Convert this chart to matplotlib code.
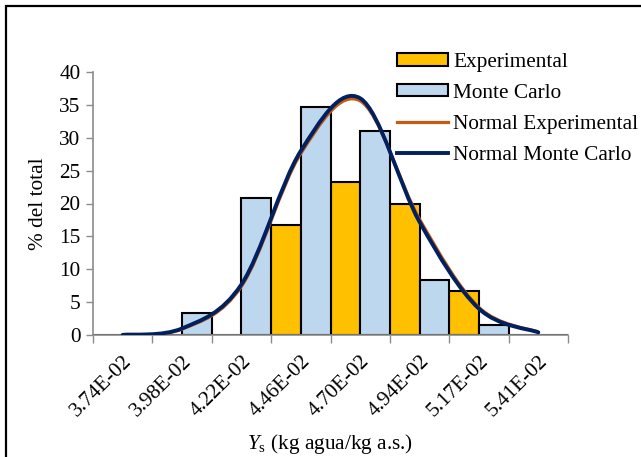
import matplotlib
matplotlib.use("Agg")
import matplotlib.pyplot as plt
from matplotlib.path import Path
from matplotlib.patches import PathPatch, Rectangle
from matplotlib.lines import Line2D
from matplotlib.patches import Patch

plt.rcParams['font.family'] = ['Liberation Serif', 'DejaVu Serif']
plt.rcParams['mathtext.fontset'] = 'custom'
plt.rcParams['mathtext.rm'] = 'Liberation Serif'
plt.rcParams['mathtext.it'] = 'Liberation Serif:italic'

categories = ['3.74E-02', '3.98E-02', '4.22E-02', '4.46E-02',
              '4.70E-02', '4.94E-02', '5.17E-02', '5.41E-02']
experimental = [0, 0, 0, 16.7, 23.3, 20.0, 6.7, 0]
monte_carlo = [0, 3.4, 20.8, 34.7, 31.0, 8.4, 1.5, 0]
normal_exp = [0.02, 0.9, 7.4, 27.6, 35.6, 17.6, 4.2, 0.45]
normal_mc = [0.02, 1.0, 7.7, 28.0, 36.0, 17.2, 4.0, 0.4]

EXP_COLOR = '#FFC000'
MC_COLOR = '#BDD7EE'
NEXP_COLOR = '#C55A11'
NMC_COLOR = '#002060'
AXIS_GRAY = '#8C8C8C'
FS = 15.3


def smooth_path(ys):
    # cubic Bezier through every point, Catmull-Rom style tangents
    xs = list(range(len(ys)))
    pts = list(zip(xs, ys))
    verts = [pts[0]]
    codes = [Path.MOVETO]
    n = len(pts)
    for i in range(n - 1):
        p0 = pts[max(i - 1, 0)]
        p1 = pts[i]
        p2 = pts[i + 1]
        p3 = pts[min(i + 2, n - 1)]
        c1 = (p1[0] + (p2[0] - p0[0]) / 6, p1[1] + (p2[1] - p0[1]) / 6)
        c2 = (p2[0] - (p3[0] - p1[0]) / 6, p2[1] - (p3[1] - p1[1]) / 6)
        verts += [c1, c2, p2]
        codes += [Path.CURVE4] * 3
    return Path(verts, codes)


fig = plt.figure(figsize=(6.41, 4.57), dpi=100)
ax = fig.add_axes([93 / 641, 1 - 335 / 457, 475 / 641, 263 / 457])

x = list(range(len(categories)))
ax.bar([i - 0.25 for i in x], experimental, width=0.5, color=EXP_COLOR,
       edgecolor='black', linewidth=1.5, zorder=2)
ax.bar([i + 0.25 for i in x], monte_carlo, width=0.5, color=MC_COLOR,
       edgecolor='black', linewidth=1.5, zorder=2)

ax.add_patch(PathPatch(smooth_path(normal_exp), fill=False, edgecolor=NEXP_COLOR,
                       linewidth=2.3, capstyle='round', zorder=3))
ax.add_patch(PathPatch(smooth_path(normal_mc), fill=False, edgecolor=NMC_COLOR,
                       linewidth=2.8, capstyle='round', zorder=4))

ax.set_xlim(-0.5, len(categories) - 0.5)
ax.set_ylim(0, 40)
ax.set_yticks(range(0, 41, 5))
ax.set_xticks(x)
ax.set_xticklabels(categories, rotation=45, ha='right', rotation_mode='anchor')
ax.set_xticks([i - 0.5 for i in range(len(categories) + 1)], minor=True)
ax.tick_params(axis='x', which='major', length=0, pad=12, labelsize=FS)
ax.tick_params(axis='x', which='minor', length=6, width=1, color=AXIS_GRAY)
ax.tick_params(axis='y', length=5, width=1, color=AXIS_GRAY, labelsize=FS, pad=4)

for side in ('top', 'right'):
    ax.spines[side].set_visible(False)
for side in ('left', 'bottom'):
    ax.spines[side].set_color(AXIS_GRAY)
    ax.spines[side].set_linewidth(1.2)

ax.set_ylabel('% del total', fontsize=FS, labelpad=8)
ax.set_xlabel(r'$\mathit{Y}_\mathrm{s}$ (kg agua/kg a.s.)', fontsize=FS, labelpad=8)

handles = [
    Patch(facecolor=EXP_COLOR, edgecolor='black', linewidth=1.5),
    Patch(facecolor=MC_COLOR, edgecolor='black', linewidth=1.5),
    Line2D([], [], color=NEXP_COLOR, linewidth=2.3),
    Line2D([], [], color=NMC_COLOR, linewidth=2.8),
]
labels = ['Experimental', 'Monte Carlo', 'Normal Experimental', 'Normal Monte Carlo']
fig.legend(handles, labels, loc='upper left', bbox_to_anchor=(397 / 641, 1 - 53 / 457),
           bbox_transform=fig.transFigure, frameon=False, fontsize=FS,
           borderpad=0, borderaxespad=0, handlelength=2.4, handleheight=0.5,
           handletextpad=0.25, labelspacing=0.56)

fig.add_artist(Rectangle((6 / 641, -0.1), 1.2, 1.1 - 6 / 457, transform=fig.transFigure,
                         fill=False, edgecolor='black', linewidth=1.6))

fig.savefig('out.png', dpi=100)
